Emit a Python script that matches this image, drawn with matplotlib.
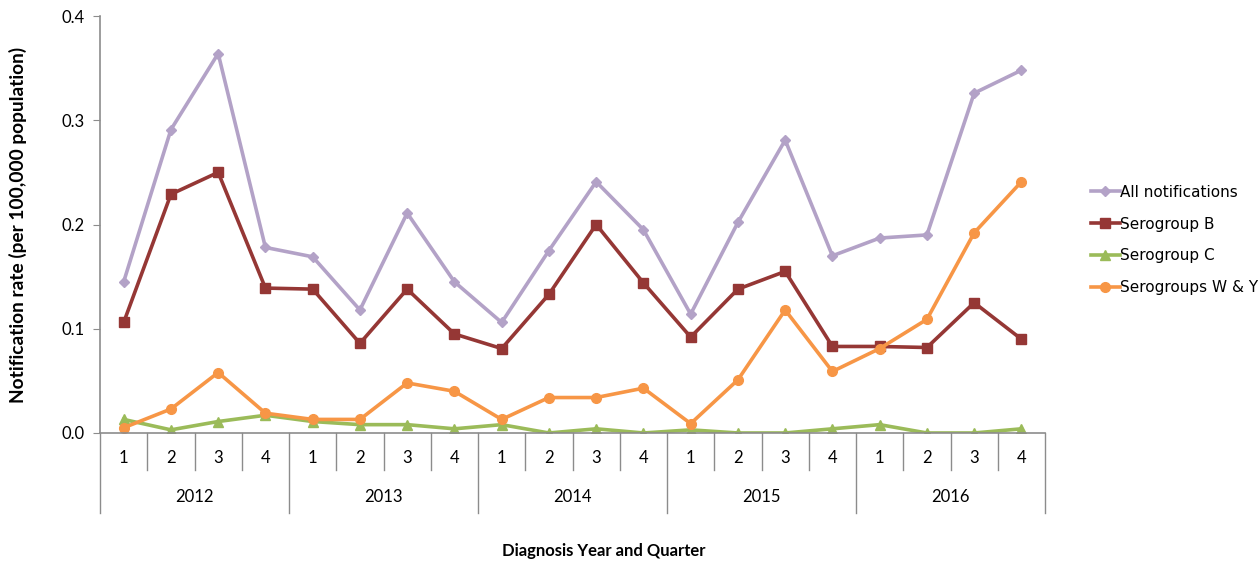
import matplotlib
matplotlib.use("Agg")
import matplotlib.pyplot as plt
import matplotlib.transforms as mtransforms
import numpy as np

# data
years = ["2012", "2013", "2014", "2015", "2016"]
quarters = ["1", "2", "3", "4"]

all_notif = [0.145, 0.291, 0.364, 0.178,
             0.169, 0.118, 0.211, 0.145,
             0.106, 0.175, 0.241, 0.195,
             0.114, 0.202, 0.281, 0.170,
             0.187, 0.190, 0.326, 0.348]
sero_b = [0.106, 0.229, 0.250, 0.139,
          0.138, 0.086, 0.138, 0.095,
          0.081, 0.133, 0.200, 0.144,
          0.092, 0.138, 0.155, 0.083,
          0.083, 0.082, 0.125, 0.090]
sero_c = [0.013, 0.003, 0.011, 0.017,
          0.011, 0.008, 0.008, 0.004,
          0.008, 0.000, 0.004, 0.000,
          0.003, 0.000, 0.000, 0.004,
          0.008, 0.000, 0.000, 0.004]
sero_wy = [0.005, 0.023, 0.058, 0.019,
           0.013, 0.013, 0.048, 0.040,
           0.013, 0.034, 0.034, 0.043,
           0.009, 0.051, 0.118, 0.059,
           0.081, 0.109, 0.192, 0.241]

plt.rcParams['font.family'] = ['Lato', 'DejaVu Sans']

fig = plt.figure(figsize=(12.6, 5.64), dpi=100)
ax = fig.add_axes([0.0794, 0.2323, 0.7500, 0.7393])

x = np.arange(len(all_notif))
gris = "#8c8c8c"

ax.plot(x, all_notif, color="#B3A2C7", lw=2.6, marker="D", ms=5, label="All notifications")
ax.plot(x, sero_b, color="#953735", lw=2.6, marker="s", ms=7, label="Serogroup B")
ax.plot(x, sero_c, color="#9BBB59", lw=2.6, marker="^", ms=7, label="Serogroup C")
ax.plot(x, sero_wy, color="#F79646", lw=2.6, marker="o", ms=7, label="Serogroups W & Y")

ax.set_xlim(-0.5, len(x) - 0.5)
ax.set_ylim(0, 0.4)
ax.set_yticks([0.0, 0.1, 0.2, 0.3, 0.4])
ax.set_yticklabels(["0.0", "0.1", "0.2", "0.3", "0.4"], fontsize=12)
ax.tick_params(axis="y", direction="out", length=5, color=gris, pad=6)
ax.set_xticks([])

for s in ["top", "right"]:
    ax.spines[s].set_visible(False)
ax.spines["left"].set_color(gris)
ax.spines["bottom"].set_color(gris)
ax.spines["left"].set_linewidth(1.2)
ax.spines["bottom"].set_linewidth(1.2)

# two level category axis
trans = mtransforms.blended_transform_factory(ax.transData, ax.transAxes)
for i in range(len(x) + 1):
    xb = i - 0.5
    if i % 4 == 0:
        ax.plot([xb, xb], [0, -0.192], color=gris, lw=1, transform=trans, clip_on=False)
    else:
        ax.plot([xb, xb], [0, -0.089], color=gris, lw=1, transform=trans, clip_on=False)
for i in range(len(x)):
    ax.text(i, -0.06, quarters[i % 4], transform=trans, ha="center", va="center", fontsize=12)
for j, yr in enumerate(years):
    ax.text(j * 4 + 1.5, -0.153, yr, transform=trans, ha="center", va="center", fontsize=12)

fig.text(0.479, 0.023, "Diagnosis Year and Quarter", ha="center", va="center",
         fontsize=12, fontweight="bold")
fig.text(0.0143, 0.601, "Notification rate (per 100,000 population)", rotation=90,
         ha="center", va="center", fontsize=13.8, fontweight="bold")

leg = ax.legend(loc="center left", bbox_to_anchor=(1.0418, 0.463), frameon=False,
                prop={"family": "DejaVu Sans", "size": 11},
                handlelength=1.9, handletextpad=0.05, labelspacing=1.1, borderaxespad=0)

fig.savefig("out.png", dpi=100)
